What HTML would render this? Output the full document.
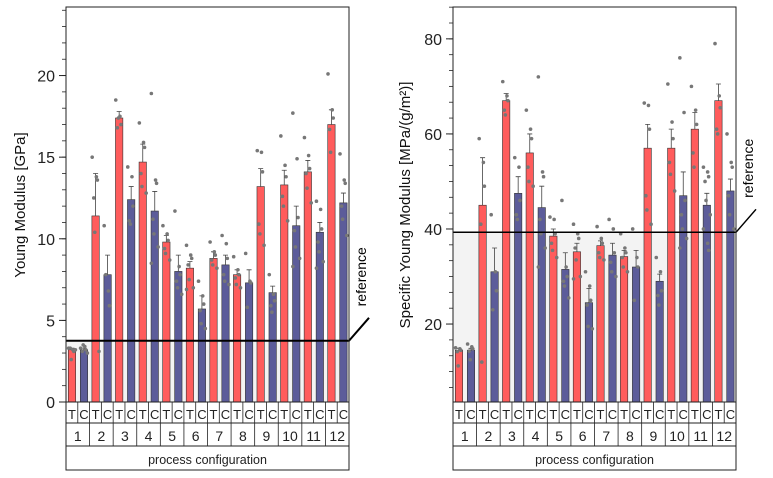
<!DOCTYPE html>
<html><head><meta charset="utf-8"><style>
html,body{margin:0;padding:0;background:#fff;width:773px;height:478px;overflow:hidden}
svg{display:block;font-family:"Liberation Sans",sans-serif}
</style></head><body>
<svg id="svg" width="773" height="478" viewBox="0 0 773 478"></svg>
<script>
const groups=["1","2","3","4","5","6","7","8","9","10","11","12"];
const types=["T","C"];
// Left chart: Young modulus [GPa]
const ymT=[3.2,11.4,17.4,14.7,9.8,8.2,8.8,7.8,13.2,13.3,14.1,17.0];
const ymC=[3.2,7.8,12.4,11.7,8.0,5.7,8.4,7.3,6.7,10.8,10.4,12.2];
const ymErrT=[0.1,2.6,0.4,1.1,0.4,0.4,0.4,0.3,1.1,0.9,0.7,0.9];
const ymErrC=[0.1,1.2,0.8,1.2,1.0,0.8,0.6,0.8,0.4,1.2,0.6,0.6];
const ymPtsT=[[3.3,3.2,3.1,3.3,2.6,3.2],[15.0,13.8,13.6,12.5,10.4,3.1],[18.5,17.5,17.0,16.8,17.4],[17.1,15.9,15.6,14.0,13.2,12.8],[10.8,10.3,9.9,9.4,9.1,8.7],[9.6,9.0,8.8,8.4,7.5,7.0,6.9],[9.8,9.2,9.0,8.7,8.4,8.2],[8.9,8.1,7.8,7.6,7.2,7.0],[15.4,15.3,14.1,10.9,10.3,9.6],[16.3,14.5,13.8,12.6,12.0,11.1],[16.2,15.1,14.3,14.0,13.1,12.2],[20.1,17.9,17.4,16.7,15.3]];
const ymPtsC=[[3.3,3.4,3.2,3.1,3.5,3.0],[10.8,6.8,5.9,7.8],[14.4,13.8,12.0,11.1,10.9],[18.9,13.6,13.4,11.2,10.3,9.5,8.5],[11.7,8.3,7.8,7.4,7.0,6.6],[7.4,6.5,6.0,5.6,4.8,4.5],[10.2,9.7,8.8,7.8,7.4,7.2],[9.1,7.4,7.3,5.8],[7.8,6.6,6.2,5.9,5.5],[17.7,14.9,11.3,10.5,9.5,8.8,8.3],[12.3,11.8,10.6,9.8,9.2,8.6,8.2],[15.2,13.6,13.4,12.0,11.2,10.2]];
const ymTicks=[0,5,10,15,20];
const ymRef=3.75;
// Right chart: Specific Young modulus
const syT=[14.5,45,67,56,38.5,35.2,36.5,34.2,57,57,61,67];
const syC=[14.5,31,47.5,44.5,31.5,24.5,34.5,32,29,47,45,48];
const syErrT=[0.4,10,1.5,4,1.5,1.8,1,1.3,5,4,3.5,3.5];
const syErrC=[0.4,5,3.5,4.5,3.5,3,2.5,3.5,1.5,5,2.5,2.5];
const syPtsT=[[15,14.8,14.5,14.2,11.2],[59,54,49,41,12],[71,68,67,65,64],[65,61,59,53,50,49],[42.5,42,39,37,35.5,34],[41,39,38,36,33.5,30,29.5],[40.5,38,37,35,34,33.5],[39,36,35,34,32,31],[66.5,66,61,47,44,41],[70.5,62.5,59,54,51.5,48],[70,65,62,56,53],[79,68,65.5,61,60]];
const syPtsC=[[15.8,15.2,14.8,14.3,12.5],[43,31,27,23],[55,53,46,43,42],[72,52,51,42,39,36,32],[46,32,30,29,28,25.5],[31,28,25,24,19.5,19],[42,40,35,33,31,30],[40,34,32,25],[34,31,27,26,24],[76,64.5,46,43,40,38,36],[53,52,51,50,46,43,40,37,35.5],[60,54,53,47,43,40]];
const syTicks=[20,40,60,80];
const syRef=39.3;

const NS="http://www.w3.org/2000/svg";
const svg=document.getElementById('svg');
function mk(tag,attrs,parent,text){const e=document.createElementNS(NS,tag);for(const k in attrs)e.setAttribute(k,attrs[k]);if(text!==undefined)e.textContent=text;(parent||svg).appendChild(e);return e;}

function chart(c){
  const g=mk('g',{});
  
  
  const L=c.x0,R=c.x1,T=7,B=402;
  const y=v=>B-(v-c.vmin)/(c.vmax-c.vmin)*(B-T);
  const gw=(R-L)/groups.length;
  const sh=mk('rect',{x:L,y:y(c.ref),width:R-L,height:B-y(c.ref),fill:'#f3f3f3'},g);
  
  
  groups.forEach((gr,i)=>{
    [[c.T,c.eT,c.pT,'#ff5c5c',6],[c.C,c.eC,c.pC,'#5c5c9a',18]].forEach((s,k)=>{
      const cx=L+i*gw+s[4];const v=s[0][i];
      const b=mk('rect',{x:cx-3.7,y:y(v),width:7.4,height:B-y(v),fill:s[3],stroke:'#333','stroke-width':0.6},g);
      
      
      const eb=mk('path',{d:`M${cx} ${y(v)}V${y(v+s[1][i])}M${cx-2.5} ${y(v+s[1][i])}H${cx+2.5}`,stroke:'#444','stroke-width':0.8,fill:'none'},g);
      
      
      s[2][i].forEach((p,j)=>{
        const off=((j%3)-1)*2.6+(j%2?0.8:-0.8);
        const d=mk('circle',{cx:cx+off,cy:y(p),r:1.8,fill:'#777'},g);
        
        
      });
    });
  });
  const rl=mk('path',{d:`M${L} ${y(c.ref)}H${R}L${R+20} ${y(c.ref)-23}`,stroke:'#000','stroke-width':c.refW,fill:'none'},g);
  
  
  const rt=mk('text',{x:0,y:0,transform:`translate(${R+17},${y(c.ref)-64}) rotate(-90)`,'text-anchor':'middle','font-size':14,fill:'#000'},g,'reference');
  
  
  const fr=mk('rect',{x:L,y:T,width:R-L,height:B-T,fill:'none',stroke:'#222','stroke-width':1},g);
  
  
  for(let v=Math.ceil(c.vmin/c.minor)*c.minor;v<=c.vmax+1e-9;v+=c.minor){
    const tk=mk('line',{x1:L-4,x2:L,y1:y(v),y2:y(v),stroke:'#222','stroke-width':0.8},g);
    
    
  }
  c.ticks.forEach(v=>{
    const tk=mk('line',{x1:L-7,x2:L,y1:y(v),y2:y(v),stroke:'#222','stroke-width':1},g);
    
    
    const tl=mk('text',{x:L-11,y:y(v)+6,'text-anchor':'end','font-size':16,fill:'#222'},g,String(v));
    
    
  });
  const yt=mk('text',{x:0,y:0,transform:`translate(${c.titleX},205) rotate(-90)`,'text-anchor':'middle','font-size':15,fill:'#111'},g,c.title);
  
  
  const tb=mk('path',{d:`M${L} ${B}V470H${R}V${B}M${L} 423H${R}M${L} 446H${R}`,stroke:'#222','stroke-width':1,fill:'none'},g);
  
  
  groups.forEach((gr,i)=>{
    const gx=L+i*gw;
    mk('path',{d:`M${gx+gw/2} ${B}V423M${gx} ${B}V446`,stroke:'#222','stroke-width':0.8},g);
    types.forEach((t,k)=>{
      const tt=mk('text',{x:gx+6+k*12,y:419,'text-anchor':'middle','font-size':13,fill:'#222'},g,t);
      
      
    });
    const gl=mk('text',{x:gx+gw/2,y:441,'text-anchor':'middle','font-size':14,fill:'#222'},g,gr);
    
    
  });
  const xt=mk('text',{x:(L+R)/2,y:464,'text-anchor':'middle','font-size':12.5,fill:'#222'},g,'process configuration');
  
  
}
chart({name:'young-modulus-chart',x0:66,x1:349,vmin:0,vmax:24.2,minor:1,ticks:ymTicks,ref:ymRef,refW:2,T:ymT,C:ymC,eT:ymErrT,eC:ymErrC,pT:ymPtsT,pC:ymPtsC,title:'Young Modulus [GPa]',titleX:25});
chart({name:'specific-young-modulus-chart',x0:453,x1:736,vmin:3.6,vmax:86.7,minor:20/6,ticks:syTicks,ref:syRef,refW:1.5,T:syT,C:syC,eT:syErrT,eC:syErrC,pT:syPtsT,pC:syPtsC,title:'Specific Young Modulus [MPa/(g/m²)]',titleX:410});
</script>
</body></html>
